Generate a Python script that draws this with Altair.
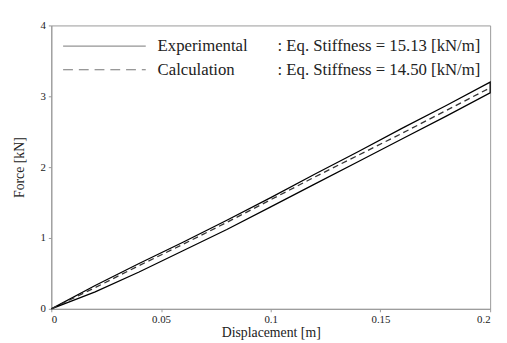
import altair as alt
import pandas as pd

# Data
disp = [0.0, 0.02, 0.04, 0.06, 0.08, 0.10, 0.12, 0.14, 0.16, 0.18, 0.20]
exp_upper = [0.0, 0.33, 0.64, 0.94, 1.25, 1.57, 1.90, 2.22, 2.55, 2.87, 3.20]
exp_lower = [0.0, 0.24, 0.52, 0.82, 1.12, 1.44, 1.76, 2.08, 2.40, 2.72, 3.05]
calc = [0.0, 0.30, 0.61, 0.91, 1.22, 1.54, 1.86, 2.17, 2.48, 2.80, 3.12]

x_ticks = [0, 0.05, 0.1, 0.15, 0.2]
y_ticks = [0, 1, 2, 3, 4]

legend_names = ["Experimental", "Calculation"]
legend_values = [": Eq. Stiffness = 15.13 [kN/m]", ": Eq. Stiffness = 14.50 [kN/m]"]

rows = []
for i, (x, f) in enumerate(zip(disp, exp_lower)):
    rows.append({"d": x, "f": f, "series": "exp", "order": i})
n = len(disp)
for j, (x, f) in enumerate(zip(disp[::-1], exp_upper[::-1])):
    rows.append({"d": x, "f": f, "series": "exp", "order": n + j})
exp_df = pd.DataFrame(rows)
calc_df = pd.DataFrame({"d": disp, "f": calc})

FONT = "Liberation Serif"
xs = alt.Scale(domain=[0, 0.2], nice=False)
ys = alt.Scale(domain=[0, 4], nice=False)

common = dict(grid=False, tickSize=3, labelFont=FONT, titleFont=FONT,
              labelFontSize=11, titleFontSize=14, titleFontWeight="normal",
              labelColor="#222222", titleColor="#222222",
              domainColor="#999999", tickColor="#999999")
xax = alt.Axis(values=x_ticks, title="Displacement [m]",
               labelExpr="datum.value == 0 ? '0' : format(datum.value, '~g')",
               labelPadding=2, titlePadding=1, **common)
yax = alt.Axis(values=y_ticks, title="Force [kN]", format="d",
               labelPadding=3, titlePadding=14, **common)

exp_line = alt.Chart(exp_df).mark_line(color="black", strokeWidth=1.3).encode(
    x=alt.X("d:Q", scale=xs, axis=xax),
    y=alt.Y("f:Q", scale=ys, axis=yax),
    order="order:Q",
)
calc_line = alt.Chart(calc_df).mark_line(color="#333333", strokeWidth=1.3,
                                         strokeDash=[6, 4]).encode(
    x=alt.X("d:Q", scale=xs),
    y=alt.Y("f:Q", scale=ys),
)

# legend (inside top-left)
leg1 = alt.Chart(pd.DataFrame({"a": [0]})).mark_rule(color="#777777", strokeWidth=1).encode(
    x=alt.value(12), x2=alt.value(96), y=alt.value(21))
leg2 = alt.Chart(pd.DataFrame({"a": [0]})).mark_rule(color="#777777", strokeWidth=1.2,
                                                     strokeDash=[10, 6]).encode(
    x=alt.value(12), x2=alt.value(96), y=alt.value(45))
name_df = pd.DataFrame({"t": legend_names, "yy": [21, 45]})
val_df = pd.DataFrame({"t": legend_values, "yy": [21, 45]})
names = alt.Chart(name_df).mark_text(font=FONT, fontSize=17, align="left",
                                     baseline="middle", color="#222222").encode(
    text="t:N", x=alt.value(108), y=alt.Y("yy:Q", scale=None, axis=None))
vals = alt.Chart(val_df).mark_text(font=FONT, fontSize=17, align="right",
                                   baseline="middle", color="#222222").encode(
    text="t:N", x=alt.value(436), y=alt.Y("yy:Q", scale=None, axis=None))

chart = alt.layer(exp_line, calc_line, leg1, leg2, names, vals).properties(
    width=446, height=288,
    autosize=alt.AutoSizeParams(type="none"),
    padding={"left": 44, "top": 15, "right": 9, "bottom": 32},
    background="white",
).configure_view(stroke="#999999", strokeWidth=1)

chart.save("out.html", embed_options={"renderer": "svg", "actions": False})
